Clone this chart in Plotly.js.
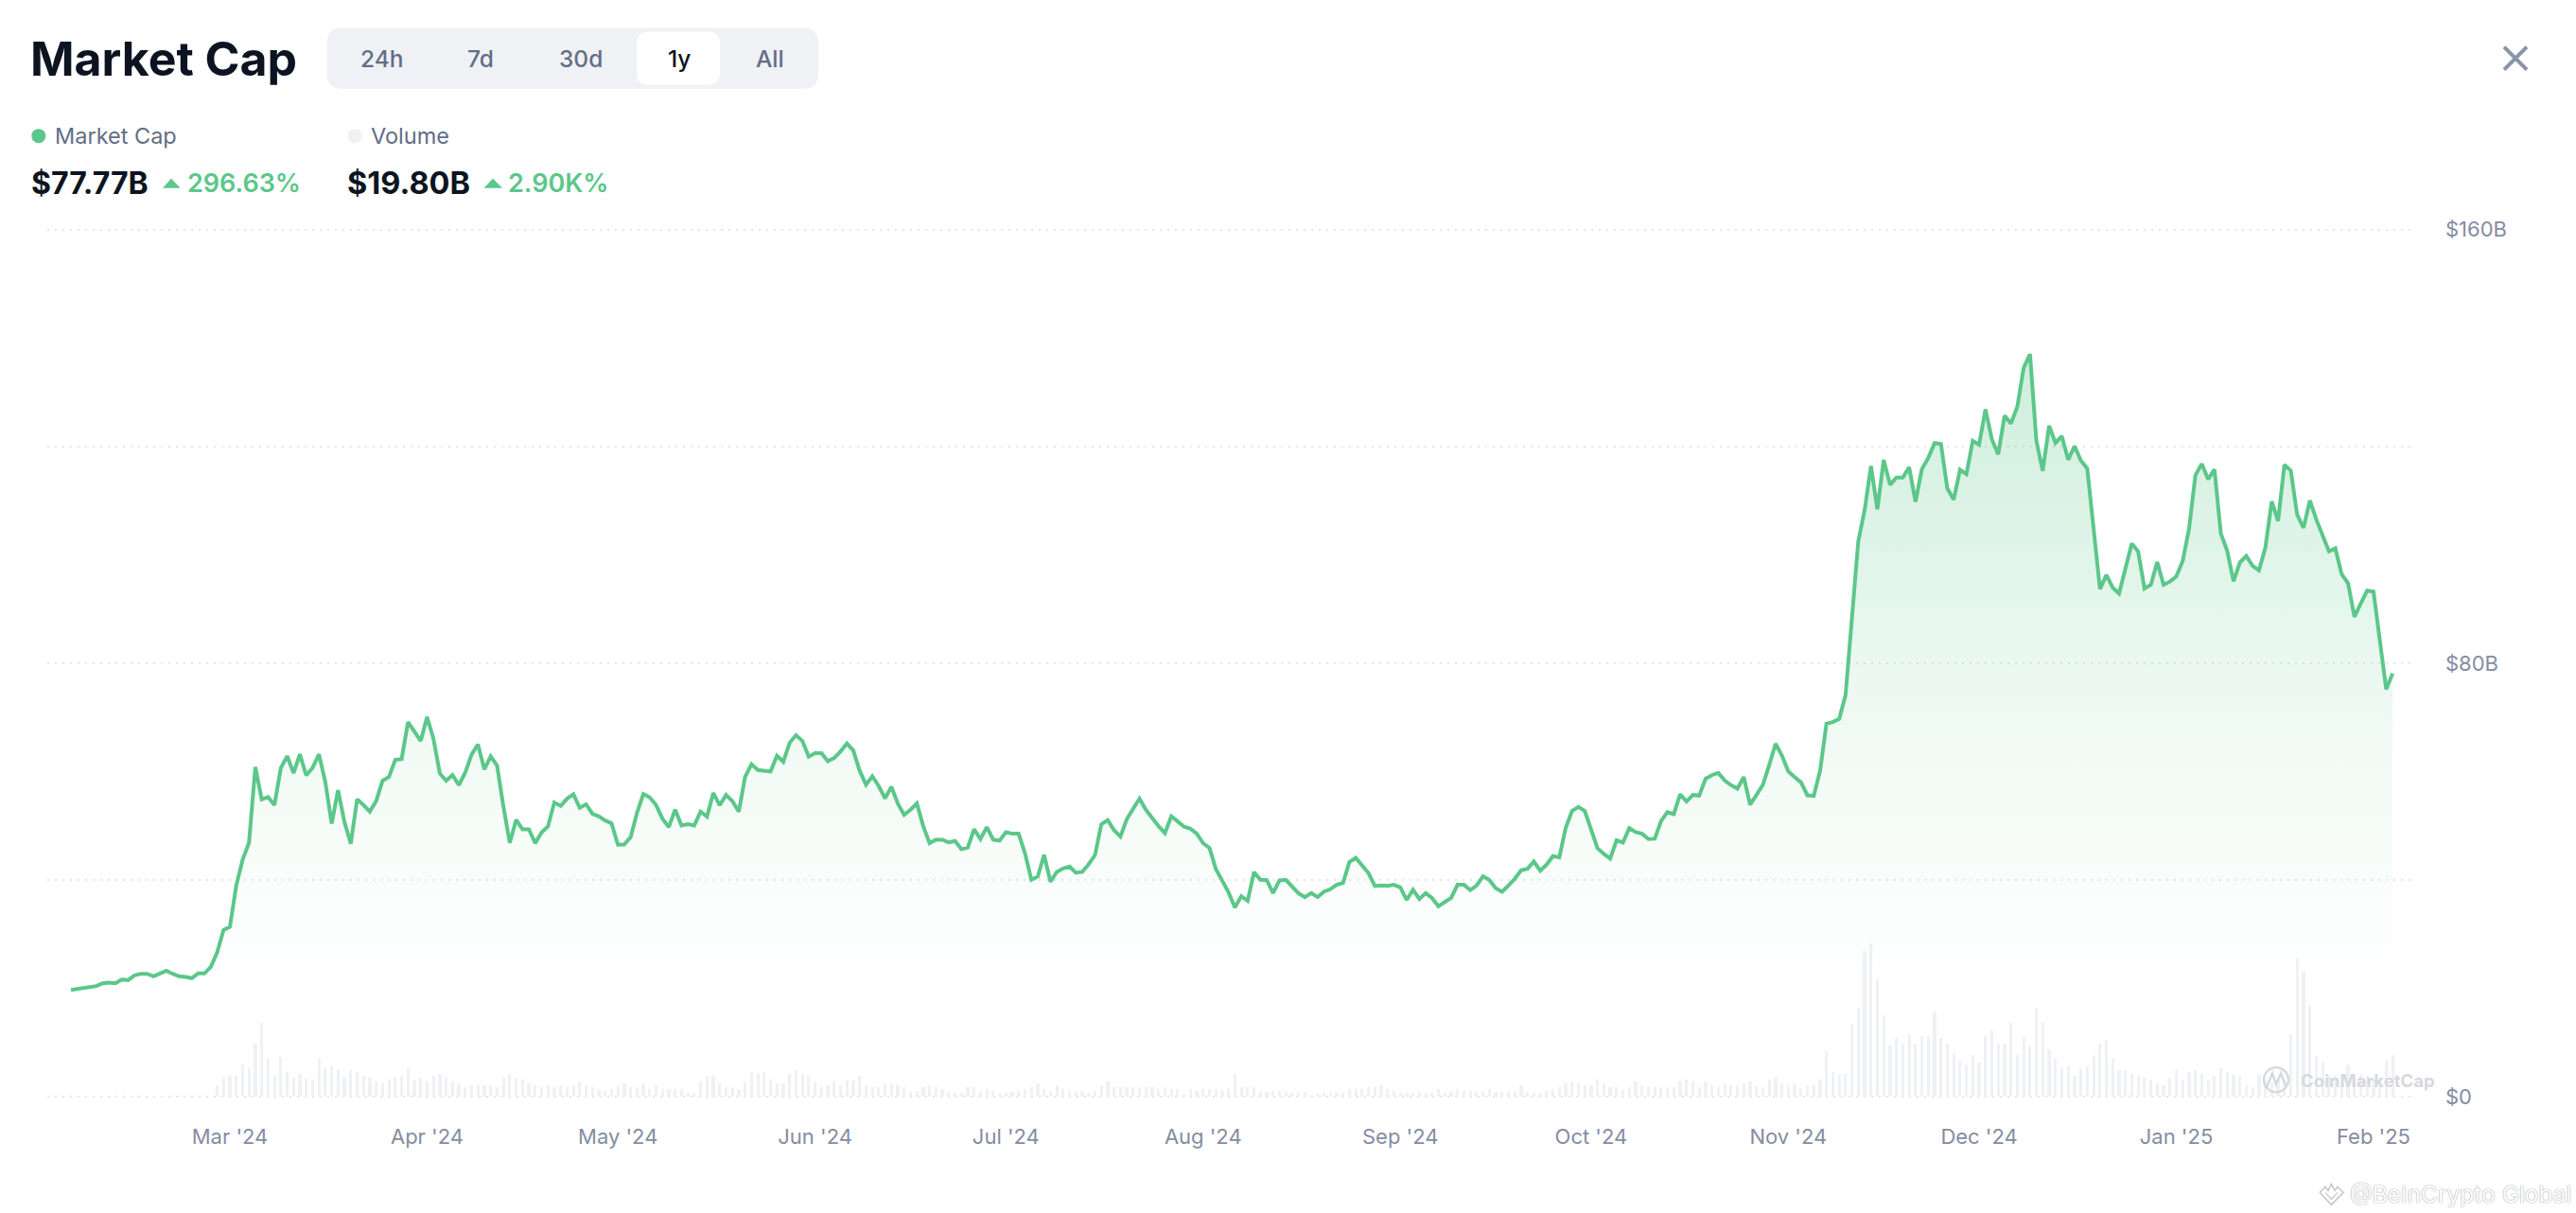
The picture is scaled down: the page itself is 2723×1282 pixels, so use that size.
<!DOCTYPE html>
<html>
<head>
<meta charset="utf-8">
<script src="https://cdn.plot.ly/plotly-3.0.1.min.js"></script>
<style>html,body{margin:0;padding:0;background:#fff;}#chart{width:2723px;height:1282px;}</style>
</head>
<body>
<div id="chart"></div>
<script>
// Daily market cap in $B, 2024-02-05 to 2025-02-04
const marketCap = [
19.74,19.92,19.98,20.33,20.44,20.97,21.08,20.97,21.66,21.55,22.42,22.71,22.71,22.25,22.71,23.29,22.71,22.25,22.13,21.9,
22.77,22.77,23.99,26.67,30.8,31.39,39,43.78,46.87,60.84,54.9,55.31,53.85,60.66,62.88,59.73,63.22,59.32,60.72,63.22,
58.1,50.42,56.59,50.77,46.69,54.9,53.85,52.63,54.61,58.34,59.03,62.18,62.35,69.16,67.42,65.67,70.09,66.08,59.67,58.34,
59.38,57.52,
59.85,63.17,65.03,60.43,62.82,61.13,53.56,46.87,51.12,49.37,49.37,46.81,48.79,49.9,54.32,53.68,55.02,55.83,53.33,53.97,
52.22,51.76,51,50.48,46.52,46.58,47.92,52.4,55.89,55.25,53.85,51.35,49.78,52.98,50.07,50.3,50.07,52.63,51.7,56.07,
53.8,55.72,54.55,52.63,59.09,61.36,60.31,60.08,60.02,62.93,61.83,65.32,66.72,65.67,62.76,63.4,63.4,61.94,62.53,63.75,
65.2,63.92,60.2,
57.58,59.15,57.35,55.08,57.23,54.14,52.05,52.98,54.14,49.95,46.81,47.45,47.45,46.93,47.22,45.7,46,49.37,47.57,49.78,
47.45,47.28,48.85,48.56,48.56,44.95,40.06,40.64,44.66,39.71,41.51,42.15,42.5,41.34,41.51,42.91,44.6,50.3,51.06,49.2,
48.03,51.23,53.15,55.02,52.98,51.35,49.95,48.67,51.76,50.83,49.84,49.49,48.56,46.81,45.94,42.04,40,37.73,34.94,37.03,
36.16,41.46,
40.06,40,37.61,39.94,40.06,38.84,37.56,36.86,37.61,36.86,37.85,38.31,39.13,39.48,43.32,44.08,42.79,41.28,38.89,39.01,
38.95,39.13,38.66,36.33,38.2,36.51,37.61,36.68,35.17,35.93,36.74,39.13,39.13,38.14,39.01,40.7,40,38.49,37.85,39.01,
40.23,41.8,42.1,43.43,41.75,42.85,44.42,44.19,49.6,52.75,53.5,52.75,49.2,45.88,44.83,43.96,47.33,46.93,49.6,48.85,
48.56,47.57,47.63,
50.9,52.52,52.17,55.83,54.49,55.71,55.59,58.72,59.36,59.77,58.38,57.51,56.87,59.01,53.91,55.71,57.57,61.22,65.16,62.96,
60.06,59.01,58.03,55.65,55.54,60.17,68.87,69.16,69.74,74.09,89.16,102.49,108.29,116.41,108.41,117.51,112.93,114.26,114.26,116.17,
109.8,115.83,117.86,120.64,120.46,112.23,110.2,115.71,114.9,121.04,120.35,126.84,121.33,118.55,125.68,124.23,127.3,134.49,137.04,121.04,
115.48,123.83,
120.64,121.91,117.57,120.06,117.39,115.94,104.81,93.68,96.29,93.97,92.87,97.57,102.09,100.64,93.8,94.49,98.67,94.49,95.07,96,
98.84,104.81,114.67,116.81,113.97,115.77,103.94,100.75,95.13,98.61,99.77,97.97,97.16,101.33,109.86,106.26,116.64,115.54,107.42,104.99,
110.03,106.55,103.65,100.64,101.22,96.41,94.78,88.58,91.01,93.39,93.22,84.52,75.19,78.14
];
// Daily volume in $B
const volume = [
0,0,0,0,0,0,0,0,0,0,0,0.5,0.5,0.5,0,0,0.5,0.5,0,0,0.5,0,0.3,
5.5,9.2,10,10.2,15.5,13.9,25.2,35.2,18.2,10.2,19,11.9,9.2,11,8.5,8.4,18.2,13.5,14.5,13,
9.2,12.9,11.9,10.2,9.2,7.3,6.5,8.4,9.2,10,13.7,8.4,9.2,7.3,10,11,9.2,7.3,6.5,4.7,
5.5,5.5,5.5,5.5,4.7,9.2,11,9.2,8.4,6.5,5.5,4.7,5.5,4.7,5.5,4.7,5.5,7.3,5.5,4.7,
3.8,3,3.8,4.7,6.5,4.7,4.7,6.5,3.8,5.5,3.8,3.8,3.8,3.8,1.8,1.8,7.3,10,10,6.5,
4.7,4.7,3.8,7.3,11.9,11,11.9,8.4,6.5,6.5,11,12.7,11,10,7.3,4.7,5.5,7.3,5.5,8.4,
7.7,10,5.5,4.7,4.7,6.5,6.5,5.5,4.7,2.5,3,4.7,5.5,4.7,3.8,2.5,1.8,1.8,4.7,4.7,
3,3.8,3,1.3,1.8,2.5,3,3.8,4.7,6.5,3.8,3,5.5,3.5,3,2.5,3,1.8,3,5.5,
7.3,4.7,4.7,4.7,4.7,4.7,4.7,4.7,3.8,4.7,3.8,3.8,1.3,3.8,3,3.8,3.8,3.8,3,3.8,
11,4.7,4.7,4.7,3,2.5,3,3,2.5,1.8,1.8,2.5,0.5,1.3,1.8,2.5,1.8,1.8,3.8,3.8,
3.8,4.7,4.7,5.5,3.8,3,1.8,1.8,1.8,2.5,1.8,2.5,3.8,1.8,2.5,3.8,3,3,2.5,3,
3.8,2.5,2.5,3,3,5.5,2.5,1.8,1.8,3,3.8,4.7,6.5,7.3,6.5,5.5,5.5,8.2,6.5,4.7,
4.7,3.8,4.7,7.3,5.5,4.7,4.7,4.7,4.7,4.7,7.3,8.2,7.3,4.7,
7.2,5.3,4.4,6.3,5.6,5.6,6.5,7.2,5,4.5,8.3,9,6.5,5.7,6.3,3.8,5.6,5.6,8.3,21.8,
11.9,11,11,34.2,42.5,69.5,73,56,38.9,24.5,28,25.4,29.7,25.4,29,29,40.7,28,25.4,20.9,
17.3,15.5,20,16.4,29,31.5,25.4,25.4,35.3,20,29,24.5,42.5,35.3,22.7,18.2,13.7,14.6,10,13.7,
14.6,20,25.4,27.2,18.2,12.8,12.8,11,10,9.2,8.3,6.5,5.6,9.2,12.8,8.3,11.9,12.8,11,8.3,
10,13.7,11.9,10.5,10,5.6,4.7,11,8.3,6.8,8.3,8.3,29.9,65.9,59.6,43.4,19,16.4,10,10,
8.3,15.5,8.3,11,10,8.3,9.2,17.3,20
];
const tickDates = ['2024-03-01','2024-04-01','2024-05-01','2024-06-01','2024-07-01','2024-08-01','2024-09-01','2024-10-01','2024-11-01','2024-12-01','2025-01-01','2025-02-01'];
const tickLabels = ["Mar '24","Apr '24","May '24","Jun '24","Jul '24","Aug '24","Sep '24","Oct '24","Nov '24","Dec '24","Jan '25","Feb '25"];
const yTicks = [0,40,80,120,160];
const yLabels = ['$0','','$80B','','$160B'];
const ranges = ['24h','7d','30d','1y','All'];

const dates = marketCap.map((_,i)=>new Date(Date.UTC(2024,1,5+i)).toISOString().slice(0,10));

const W=2723,H=1282,L=50,R=2549;
const PX=5.725, T=243-PX, B=1159+PX;   // one $B of headroom either side keeps the end gridlines drawn
const ax=p=>(p-L)/(R-L), ay=p=>(B-p)/(B-T);
const FONT='Inter, "Noto Sans", sans-serif';
const GREEN='#5bc78a', DARK='#0d1421', GREY='#616e85', AXIS='#858ca2', PANEL='#eff1f5';
const txt=(text,x,y,size,color,weight,anchor)=>({text,x:ax(x),y:ay(y),xref:'paper',yref:'paper',showarrow:false,xanchor:anchor||'left',yanchor:'middle',borderpad:0,font:{family:FONT,size,color,weight:weight||400}});
const rr=(x0,y0,x1,y1,r,fill)=>{
  const c=(x,y)=>ax(x)+','+ay(y);
  return {type:'path',xref:'paper',yref:'paper',fillcolor:fill,line:{width:0},layer:'above',
    path:`M${c(x0+r,y0)} L${c(x1-r,y0)} Q${c(x1,y0)} ${c(x1,y0+r)} L${c(x1,y1-r)} Q${c(x1,y1)} ${c(x1-r,y1)} L${c(x0+r,y1)} Q${c(x0,y1)} ${c(x0,y1-r)} L${c(x0,y0+r)} Q${c(x0,y0)} ${c(x0+r,y0)} Z`};
};
const poly=(pts,fill,stroke,w)=>({type:'path',xref:'paper',yref:'paper',layer:'above',fillcolor:fill||'rgba(0,0,0,0)',line:{width:w||0,color:stroke||'rgba(0,0,0,0)'},
  path:'M'+pts.map(p=>ax(p[0])+','+ay(p[1])).join(' L')+(fill?' Z':'')});
const dot=(cx,cy,r,fill,stroke,w)=>({type:'circle',xref:'paper',yref:'paper',layer:'above',x0:ax(cx-r),x1:ax(cx+r),y0:ay(cy+r),y1:ay(cy-r),fillcolor:fill||'rgba(0,0,0,0)',line:{width:w||0,color:stroke||'rgba(0,0,0,0)'}});
const seg=(x0,y0,x1,y1,c,w)=>({type:'line',xref:'paper',yref:'paper',layer:'above',x0:ax(x0),x1:ax(x1),y0:ay(y0),y1:ay(y1),line:{color:c,width:w}});

const rangeX=[404,508,614,717.6,814];
const annotations=[
  ...ranges.map((r,i)=>txt(r,rangeX[i],62,24.5,r==='1y'?DARK:GREY,500,'center')),
  txt('Market Cap',57,144,23.5,GREY,400),
  txt('Volume',391,144,23.5,GREY,400),
  txt('$77.77B',32,194,32,DARK,700),
  txt('296.63%',197,194,27,GREEN,600),
  txt('$19.80B',366,194,32.5,DARK,700),
  txt('2.90K%',536,194,27,GREEN,600),
  txt('CoinMarketCap',2431,1142,18.5,'#d7d9de',700),
  txt('@BeInCrypto Global',2483,1262,24.5,'#ffffff',400),
];
annotations[annotations.length-1].font.shadow='0 0 1.5px #77777e';
const shapes=[
  rr(345.6,30,865,94,16,PANEL),
  rr(673,34,761,90,13,'#ffffff'),
  dot(40.8,144,7.5,GREEN),
  dot(375,144,7.5,PANEL),
  poly([[172,199],[181,189],[190.6,199]],GREEN),
  poly([[511.5,199],[521,189],[531,199]],GREEN),
  seg(2647,50,2671,74,'#8a94a6',4),
  seg(2671,50,2647,74,'#8a94a6',4),
  dot(2406,1141,13,null,'#d7d9de',2.5),
  poly([[2396,1149],[2402,1134],[2406,1146],[2411,1134],[2416,1147]],null,'#d7d9de',2.5),
  poly([[2452,1260],[2458,1254],[2461,1258],[2464.5,1251],[2468,1258],[2471,1254],[2477,1260],[2464.5,1273],[2452,1260]],null,'#c4c4ca',1.5),
  poly([[2458,1260],[2464.5,1267],[2471,1260]],null,'#c4c4ca',1.2),
];

const traces=[
  {type:'scatter',mode:'lines',x:dates,y:marketCap,name:'Market Cap',yaxis:'y',
   line:{color:GREEN,width:4,shape:'linear'},fill:'tozeroy',
   fillgradient:{type:'vertical',start:20,stop:137,colorscale:[[0,'rgba(91,199,138,0)'],[0.4,'rgba(91,199,138,0.09)'],[1,'rgba(91,199,138,0.3)']]},
   hoverinfo:'skip'},
  {type:'bar',x:dates,y:volume,name:'Volume',yaxis:'y2',width:41000000,marker:{color:PANEL,line:{width:0}},hoverinfo:'skip'}
];

const layout={
  width:W,height:H,autosize:false,showlegend:false,paper_bgcolor:'#fff',plot_bgcolor:'rgba(0,0,0,0)',
  margin:{l:L,r:W-R,t:T,b:H-B,pad:0},
  font:{family:FONT},
  title:{text:'Market Cap',xref:'container',yref:'container',x:32/W,y:1-62/H,xanchor:'left',yanchor:'middle',pad:{t:0,b:0,l:0,r:0},font:{family:FONT,size:50,color:DARK,weight:700}},
  xaxis:{type:'date',range:['2024-02-01 07:00','2025-02-06 23:00'],showgrid:false,zeroline:false,showline:false,ticks:'',
    tickmode:'array',tickvals:tickDates,ticktext:tickLabels,tickfont:{family:FONT,size:22,color:AXIS},ticklabelstandoff:21},
  yaxis:{side:'right',range:[-1,161],showgrid:true,gridcolor:'#e3e5ea',gridwidth:2,griddash:'2px,6px',zeroline:false,showline:false,ticks:'',
    tickmode:'array',tickvals:yTicks,ticktext:yLabels,tickfont:{family:FONT,size:22,color:AXIS},ticklabelstandoff:35},
  yaxis2:{overlaying:'y',side:'right',range:[-2.575,414.575],visible:false,showgrid:false,zeroline:false},
  bargap:0,annotations,shapes
};
Plotly.newPlot('chart',traces,layout,{displayModeBar:false,staticPlot:true,responsive:false});
</script>
</body>
</html>
